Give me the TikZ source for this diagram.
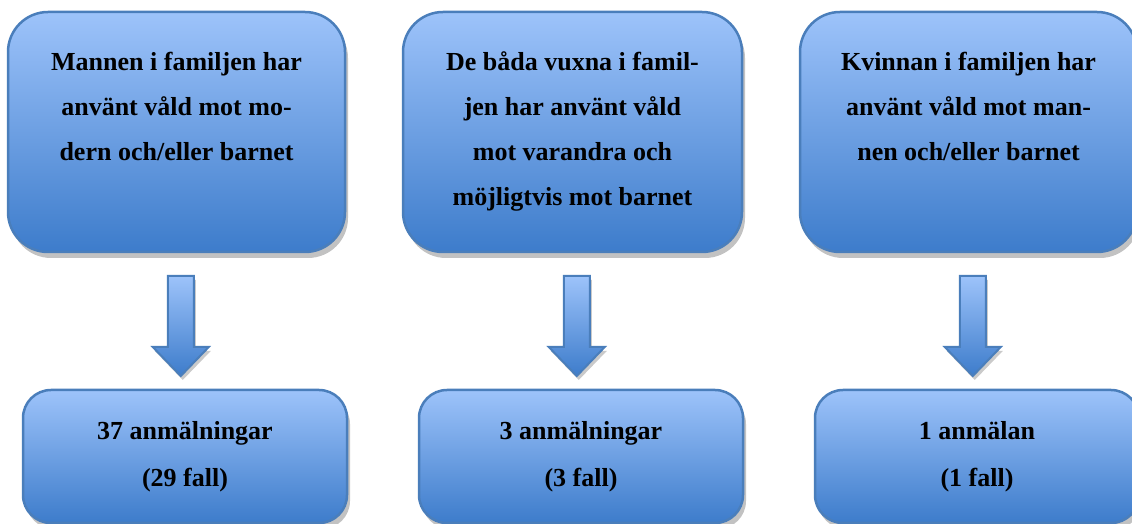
\documentclass[tikz,border=0pt]{standalone}
\usepackage{fontspec}
\setmainfont{Liberation Serif}
\usetikzlibrary{positioning,calc,shadows}

\definecolor{boxtop}{HTML}{9DC3FA}
\definecolor{boxbot}{HTML}{3D7CCB}
\definecolor{boxline}{HTML}{4A7EBB}

\tikzset{
  casebox/.style={rounded corners=40pt, draw=boxline, line width=2.5pt,
    top color=boxtop, bottom color=boxbot,
    minimum width=337pt, minimum height=240pt,
    drop shadow={shadow xshift=3pt, shadow yshift=-6pt, opacity=.4, fill=black!60}},
  countbox/.style={rounded corners=28pt, draw=boxline, line width=2.5pt,
    top color=boxtop, bottom color=boxbot,
    minimum width=324pt, minimum height=133pt, align=center,
    font=\fontsize{26}{47}\selectfont\bfseries,
    drop shadow={shadow xshift=3pt, shadow yshift=-6pt, opacity=.4, fill=black!60}},
  boxtext/.style={align=center, inner sep=0pt, font=\fontsize{26}{45}\selectfont\bfseries},
  blockarrow/.style={draw=boxline, line width=2pt, line join=miter,
    top color=boxtop, bottom color=boxbot,
    drop shadow={shadow xshift=2pt, shadow yshift=-4pt, opacity=.35, fill=black!60}}
}

\begin{document}
\begin{tikzpicture}[x=1pt,y=1pt]
    \useasboundingbox (0,0) rectangle (1132,524);

    \node (man) at (176.5,392) [casebox] {};
    \node (bada) at (572.5,392) [casebox, minimum width=339pt] {};
    \node (kvinna) at (968.5,392) [casebox] {};

    \node (manTxt) [boxtext, below=41pt of man.north] {Mannen i familjen har\\använt våld mot mo-\\dern och/eller barnet};
    \node (badaTxt) [boxtext, below=41pt of bada.north] {De båda vuxna i famil-\\jen har använt våld\\mot varandra och\\möjligtvis mot barnet};
    \node (kvinnaTxt) [boxtext, below=41pt of kvinna.north] {Kvinnan i familjen har\\använt våld mot man-\\nen och/eller barnet};

    \node (manAnm) at (185,67.5) [countbox] {37 anmälningar\\(29 fall)};
    \node (badaAnm) at (581,67.5) [countbox] {3 anmälningar\\(3 fall)};
    \node (kvinnaAnm) at (977,67.5) [countbox] {1 anmälan\\(1 fall)};

    \foreach \a/\b in {man/manAnm, bada/badaAnm, kvinna/kvinnaAnm}
        \draw[blockarrow] ($(\a.south)!0.5!(\b.north)$) ++(-13,45) -- ++(26,0) -- ++(0,-71) -- ++(15,0) -- ++(-28,-29) -- ++(-28,29) -- ++(15,0) -- cycle;
\end{tikzpicture}
\end{document}
